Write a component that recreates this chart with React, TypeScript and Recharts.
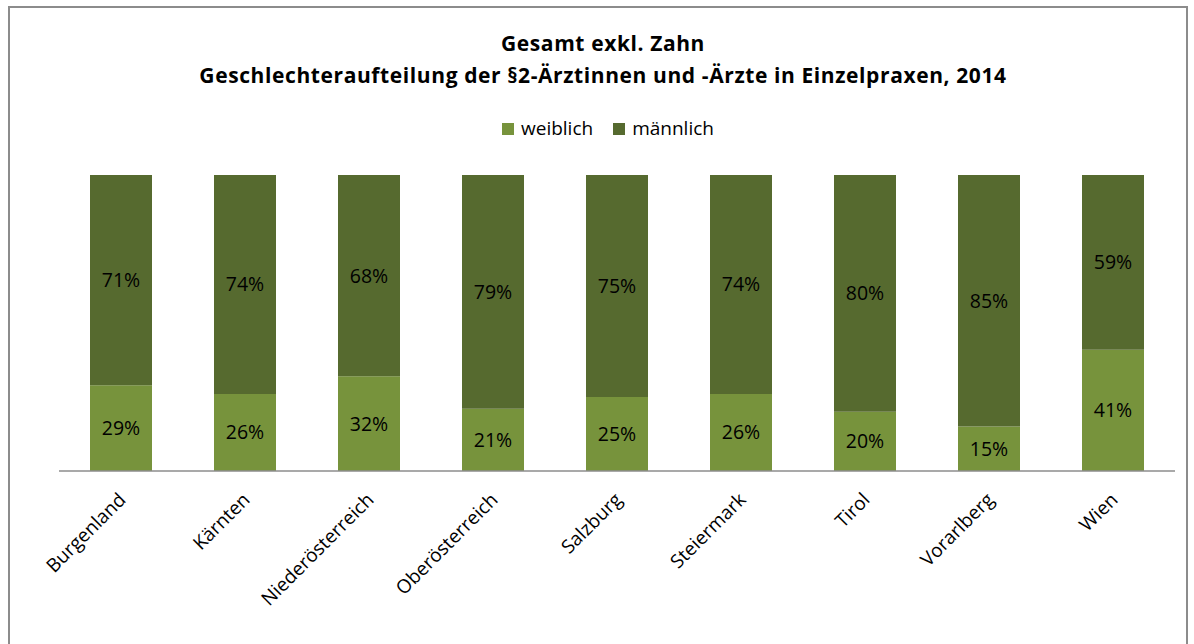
import React from 'react';
import { BarChart, Bar, XAxis, YAxis, LabelList } from 'recharts';

const regions = ['Burgenland', 'Kärnten', 'Niederösterreich', 'Oberösterreich', 'Salzburg', 'Steiermark', 'Tirol', 'Vorarlberg', 'Wien'];
const weiblich = [29, 26, 32, 21, 25, 26, 20, 15, 41];
const maennlich = [71, 74, 68, 79, 75, 74, 80, 85, 59];

const seriesNames = ['weiblich', 'männlich'];
const seriesColors = ['#77933c', '#566a2f'];

const data = regions.map((region, i) => ({ region, weiblich: weiblich[i], männlich: maennlich[i] }));

const FONT = '"Open Sans", Lato, sans-serif';

function RotatedTick(props: any) {
  const { x, y, payload } = props;
  return (
    <g transform={`translate(${x + 1},${y + 17})`}>
      <text transform="rotate(-45)" textAnchor="end" dominantBaseline="central" fontSize={19} fill="#000" fontFamily={FONT}>
        {payload.value}
      </text>
    </g>
  );
}

export default function App() {
  return (
    <div style={{ position: 'absolute', left: 0, top: 0, width: 1194, height: 644, background: '#fff', overflow: 'hidden', fontFamily: FONT }}>
      <div style={{ position: 'absolute', left: 8, top: 6, width: 1180, height: 700, border: '2px solid #8c8c8c', boxSizing: 'border-box' }} />
      <div style={{ position: 'absolute', left: 0, width: 1206, top: 27, textAlign: 'center', fontWeight: 'bold', fontSize: 21, letterSpacing: 0.6, lineHeight: '32px', color: '#000' }}>
        <div>Gesamt exkl. Zahn</div>
        <div>Geschlechteraufteilung der §2-Ärztinnen und -Ärzte in Einzelpraxen, 2014</div>
      </div>
      <div style={{ position: 'absolute', left: 0, width: 1216, top: 115, textAlign: 'center', fontSize: 19, lineHeight: '26px', color: '#000' }}>
        {seriesNames.map((n, i) => (
          <span key={n} style={{ marginLeft: i ? 20 : 0 }}>
            <span style={{ display: 'inline-block', width: 12, height: 12, background: seriesColors[i], marginRight: 7 }} />
            {n}
          </span>
        ))}
      </div>
      <div style={{ position: 'absolute', left: 0, top: 0 }}>
        <BarChart width={1194} height={644} data={data} margin={{ top: 175, right: 19, left: 59, bottom: 0 }} barSize={62}>
          <XAxis dataKey="region" tick={<RotatedTick />} tickLine={false} axisLine={{ stroke: '#8c8c8c', strokeWidth: 1.5 }} interval={0} height={173} />
          <YAxis hide domain={[0, 100]} />
          <Bar dataKey="weiblich" stackId="a" fill={seriesColors[0]} isAnimationActive={false}>
            <LabelList dataKey="weiblich" position="center" formatter={(v: number) => `${v}%`} fill="#000" fontSize={19.5} fontFamily={FONT} />
          </Bar>
          <Bar dataKey="männlich" stackId="a" fill={seriesColors[1]} isAnimationActive={false}>
            <LabelList dataKey="männlich" position="center" formatter={(v: number) => `${v}%`} fill="#000" fontSize={19.5} fontFamily={FONT} />
          </Bar>
        </BarChart>
      </div>
    </div>
  );
}
